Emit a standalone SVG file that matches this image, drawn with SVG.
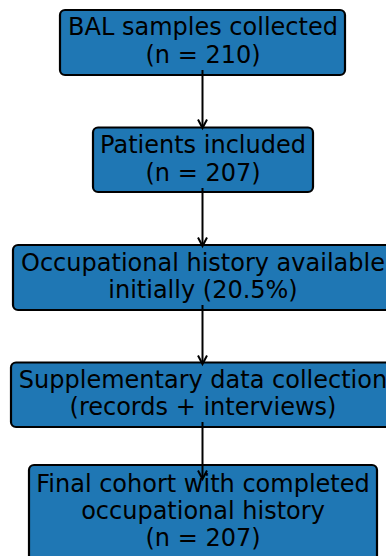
<svg xmlns="http://www.w3.org/2000/svg" width="386" height="556" viewBox="0 0 386 556">
  <defs>
    <style>
      .box { fill: #1f77b4; stroke: #000; stroke-width: 2.2; }
      .lbl { font-family: "DejaVu Sans", sans-serif; font-size: 24px; fill: #000; text-anchor: middle; }
      .edge { stroke: #000; stroke-width: 2; fill: none; }
      .head { stroke: #000; stroke-width: 2; fill: none; stroke-linejoin: miter; }
    </style>
  </defs>
  <rect width="386" height="556" fill="#fff"/>

  <g id="node-bal">
    <rect class="box" x="60" y="10" width="285" height="65" rx="5"/>
    <text class="lbl" x="203" y="35">BAL samples collected</text>
    <text class="lbl" x="203" y="62.5">(n = 210)</text>
  </g>

  <g id="node-patients">
    <rect class="box" x="93" y="127.5" width="220" height="64.5" rx="5"/>
    <text class="lbl" x="203" y="153">Patients included</text>
    <text class="lbl" x="203" y="180.5">(n = 207)</text>
  </g>

  <g id="node-history">
    <rect class="box" x="13" y="245" width="380" height="65" rx="5"/>
    <text class="lbl" x="203" y="270.5">Occupational history available</text>
    <text class="lbl" x="203" y="298">initially (20.5%)</text>
  </g>

  <g id="node-supplementary">
    <rect class="box" x="11" y="362.5" width="384" height="64.5" rx="5"/>
    <text class="lbl" x="203" y="387.5">Supplementary data collection</text>
    <text class="lbl" x="203" y="415">(records + interviews)</text>
  </g>

  <g id="node-final">
    <rect class="box" x="29" y="465" width="348" height="96" rx="5"/>
    <text class="lbl" x="203" y="491.5">Final cohort with completed</text>
    <text class="lbl" x="203" y="519">occupational history</text>
    <text class="lbl" x="203" y="546">(n = 207)</text>
  </g>

  <g id="connectors">
    <line class="edge" x1="202.5" y1="70" x2="202.5" y2="127"/>
    <polyline class="head" points="198,119.5 202.5,128 207,119.5"/>

    <line class="edge" x1="202.5" y1="188" x2="202.5" y2="245"/>
    <polyline class="head" points="198,237.5 202.5,246 207,237.5"/>

    <line class="edge" x1="202.5" y1="305" x2="202.5" y2="363"/>
    <polyline class="head" points="198,355.5 202.5,364 207,355.5"/>

    <line class="edge" x1="202.5" y1="422" x2="202.5" y2="478"/>
    <polyline class="head" points="198,470.5 202.5,479 207,470.5"/>
  </g>
</svg>
